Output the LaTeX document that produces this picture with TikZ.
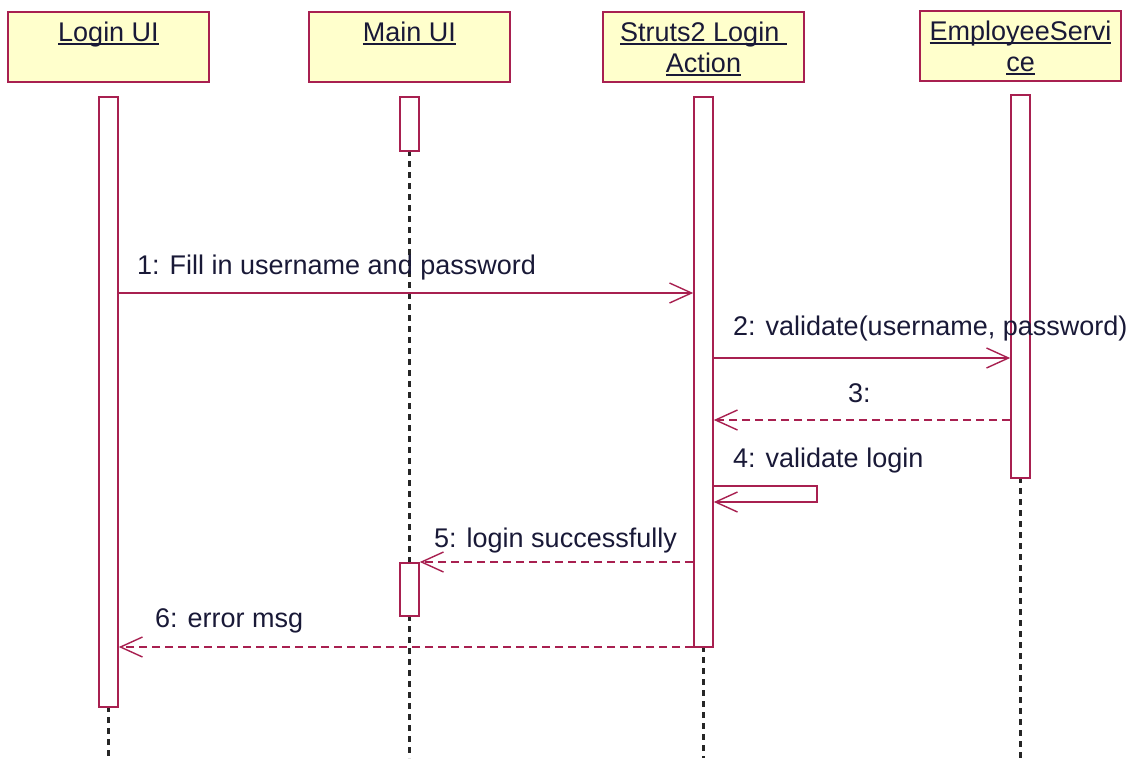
\documentclass[tikz,border=0pt]{standalone}
\usepackage{fontspec}
\setmainfont{Liberation Sans}
\usetikzlibrary{arrows.meta}
\definecolor{umlred}{RGB}{168,32,80}
\definecolor{umlfill}{RGB}{255,255,204}
\definecolor{umltext}{RGB}{25,25,55}
\newcommand{\headul}[1]{\setbox0\hbox{#1}\rlap{\rule[-3pt]{\wd0}{1.6pt}}\box0}
\begin{document}
\begin{tikzpicture}[x = 1pt, y = -1pt,
    head/.style = {draw = umlred, fill = umlfill, line width = 1.6pt,
        minimum width = 201pt, minimum height = 70pt, inner sep = 0pt},
    headtext/.style = {anchor = north, yshift = -11pt, inner sep = 0pt, align = center,
        font = \fontsize{27}{31}\selectfont, text = umltext},
    act/.style = {draw = umlred, fill = white, line width = 1.6pt, anchor = north,
        minimum width = 19pt, inner sep = 0pt},
    life/.style = {draw = black!85, line width = 2.2pt, dash pattern = on 6pt off 5pt},
    msg/.style = {draw = umlred, line width = 1.4pt,
        -{Straight Barb[length = 22pt, width = 20pt, line width = 1.4pt]}},
    reply/.style = {msg, dash pattern = on 8pt off 5pt},
    txt/.style = {anchor = base west, inner sep = 0pt,
        font = \fontsize{27}{31}\selectfont, text = umltext}]
    \useasboundingbox (0, 0) rectangle (1138, 758);

    \node [head, label = {[headtext]north:\headul{Login UI}}] (login) at (108.5, 47) {};
    \node [head, label = {[headtext]north:\headul{Main UI}}] (main) at (409.5, 47) {};
    \node [head, label = {[headtext]north:\headul{Struts2 Login\ }\\\headul{Action}}] (struts) at (703.5, 47) {};
    \node [head, label = {[headtext]north:\headul{EmployeeServi}\\\headul{ce}}] (employee) at (1020.5, 46) {};

    \coordinate (bottom) at (0, 758);
    \draw [life] (409.5, 150) -- (409.5, 562);
    \draw [life] (login.center |- 0, 706) -- (login.center |- bottom);
    \draw [life] (main.center |- 0, 615) -- (main.center |- bottom);
    \draw [life] (struts.center |- 0, 646) -- (struts.center |- bottom);
    \draw [life] (employee.center |- 0, 477) -- (employee.center |- bottom);

    \node [act, minimum height = 610pt] (loginact) at (108.5, 96) {};
    \node [act, minimum height = 54pt] (mainact) at (409.5, 96) {};
    \node [act, minimum height = 53pt] (mainact2) at (409.5, 562) {};
    \node [act, minimum height = 550pt] (strutsact) at (703.5, 96) {};
    \node [act, minimum height = 383pt] (employeeact) at (1020.5, 94) {};

    \coordinate (y1) at (0, 293);
    \coordinate (y2) at (0, 358);
    \coordinate (y3) at (0, 420);
    \coordinate (y4) at (0, 486);
    \coordinate (y4b) at (0, 502);
    \coordinate (loop) at (817, 486);
    \coordinate (y5) at (0, 562);
    \coordinate (y6) at (0, 647);

    \draw [msg] (loginact.east |- y1) -- (strutsact.west |- y1);
    \draw [msg] (strutsact.east |- y2) -- (employeeact.west |- y2);
    \draw [reply] (employeeact.west |- y3) -- (strutsact.east |- y3);
    \draw [msg] (strutsact.east |- y4) -- (loop) -- (loop |- y4b) -- (strutsact.east |- y4b);
    \draw [reply] (strutsact.west |- y5) -- (mainact2.north east);
    \draw [reply] (strutsact.west |- y6) -- (loginact.east |- y6);

    \node [txt] (l1) at (137, 274) {1: Fill in username and password};
    \node [txt] (l2) at (733, 335) {2: validate(username, password)};
    \node [txt] (l3) at (848, 402) {3:};
    \node [txt] (l4) at (733, 467) {4: validate login};
    \node [txt] (l5) at (434, 547) {5: login successfully};
    \node [txt] (l6) at (155, 627) {6: error msg};
\end{tikzpicture}
\end{document}
